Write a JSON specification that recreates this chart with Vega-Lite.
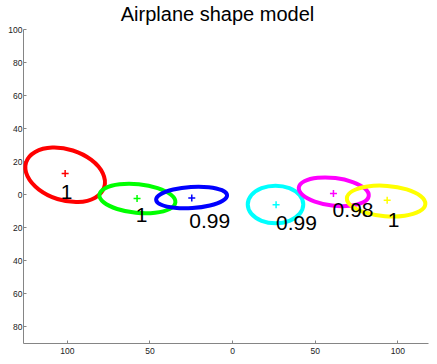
{
  "$schema": "https://vega.github.io/schema/vega-lite/v6.json",
  "width": 405,
  "height": 314,
  "autosize": {"type": "none"},
  "padding": {"left": 23, "top": 29, "right": 9, "bottom": 21},
  "background": "white",
  "title": {
    "text": "Airplane shape model",
    "font": "Liberation Sans",
    "fontSize": 20,
    "fontWeight": "normal",
    "color": "#000000",
    "anchor": "middle",
    "dx": -8,
    "offset": 0
  },
  "config": {
    "view": {"stroke": null},
    "axis": {
      "grid": false,
      "domainColor": "#858585",
      "domainWidth": 1,
      "tickColor": "#858585",
      "tickSize": -3,
      "labelFont": "Liberation Sans",
      "labelFontSize": 8.5,
      "labelColor": "#222222",
      "labelOverlap": false,
      "labelFlush": false,
      "labelBound": false,
      "title": null
    }
  },
  "datasets": {
    "ellipses": [
      {"g": "e1", "i": 0, "x": -77.36, "y": 4.30},
      {"g": "e1", "i": 1, "x": -78.20, "y": 12.65},
      {"g": "e1", "i": 2, "x": -85.15, "y": 20.76},
      {"g": "e1", "i": 3, "x": -96.34, "y": 26.48},
      {"g": "e1", "i": 4, "x": -108.79, "y": 28.26},
      {"g": "e1", "i": 5, "x": -119.14, "y": 25.64},
      {"g": "e1", "i": 6, "x": -124.64, "y": 19.30},
      {"g": "e1", "i": 7, "x": -123.80, "y": 10.96},
      {"g": "e1", "i": 8, "x": -116.85, "y": 2.84},
      {"g": "e1", "i": 9, "x": -105.66, "y": -2.88},
      {"g": "e1", "i": 10, "x": -93.21, "y": -4.66},
      {"g": "e1", "i": 11, "x": -82.86, "y": -2.04},
      {"g": "e2", "i": 0, "x": -34.31, "y": -4.89},
      {"g": "e2", "i": 1, "x": -36.96, "y": -0.28},
      {"g": "e2", "i": 2, "x": -45.06, "y": 3.71},
      {"g": "e2", "i": 3, "x": -56.44, "y": 6.01},
      {"g": "e2", "i": 4, "x": -68.05, "y": 6.00},
      {"g": "e2", "i": 5, "x": -76.78, "y": 3.69},
      {"g": "e2", "i": 6, "x": -80.29, "y": -0.31},
      {"g": "e2", "i": 7, "x": -77.64, "y": -4.92},
      {"g": "e2", "i": 8, "x": -69.54, "y": -8.91},
      {"g": "e2", "i": 9, "x": -58.16, "y": -11.21},
      {"g": "e2", "i": 10, "x": -46.55, "y": -11.20},
      {"g": "e2", "i": 11, "x": -37.82, "y": -8.89},
      {"g": "e3", "i": 0, "x": -3.05, "y": -0.55},
      {"g": "e3", "i": 1, "x": -6.13, "y": 2.46},
      {"g": "e3", "i": 2, "x": -14.13, "y": 4.29},
      {"g": "e3", "i": 3, "x": -24.91, "y": 4.45},
      {"g": "e3", "i": 4, "x": -35.59, "y": 2.90},
      {"g": "e3", "i": 5, "x": -43.29, "y": 0.05},
      {"g": "e3", "i": 6, "x": -45.96, "y": -3.33},
      {"g": "e3", "i": 7, "x": -42.87, "y": -6.34},
      {"g": "e3", "i": 8, "x": -34.87, "y": -8.17},
      {"g": "e3", "i": 9, "x": -24.09, "y": -8.33},
      {"g": "e3", "i": 10, "x": -13.41, "y": -6.78},
      {"g": "e3", "i": 11, "x": -5.71, "y": -3.93},
      {"g": "e4", "i": 0, "x": 43.05, "y": -6.18},
      {"g": "e4", "i": 1, "x": 40.80, "y": -0.48},
      {"g": "e4", "i": 2, "x": 34.65, "y": 3.69},
      {"g": "e4", "i": 3, "x": 26.25, "y": 5.22},
      {"g": "e4", "i": 4, "x": 17.85, "y": 3.69},
      {"g": "e4", "i": 5, "x": 11.70, "y": -0.48},
      {"g": "e4", "i": 6, "x": 9.45, "y": -6.18},
      {"g": "e4", "i": 7, "x": 11.70, "y": -11.88},
      {"g": "e4", "i": 8, "x": 17.85, "y": -16.05},
      {"g": "e4", "i": 9, "x": 26.25, "y": -17.58},
      {"g": "e4", "i": 10, "x": 34.65, "y": -16.05},
      {"g": "e4", "i": 11, "x": 40.80, "y": -11.88},
      {"g": "e5", "i": 0, "x": 82.65, "y": -1.06},
      {"g": "e5", "i": 1, "x": 80.32, "y": 3.43},
      {"g": "e5", "i": 2, "x": 72.94, "y": 7.40},
      {"g": "e5", "i": 3, "x": 62.50, "y": 9.79},
      {"g": "e5", "i": 4, "x": 51.79, "y": 9.96},
      {"g": "e5", "i": 5, "x": 43.68, "y": 7.86},
      {"g": "e5", "i": 6, "x": 40.35, "y": 4.06},
      {"g": "e5", "i": 7, "x": 42.68, "y": -0.43},
      {"g": "e5", "i": 8, "x": 50.06, "y": -4.40},
      {"g": "e5", "i": 9, "x": 60.50, "y": -6.79},
      {"g": "e5", "i": 10, "x": 71.21, "y": -6.96},
      {"g": "e5", "i": 11, "x": 79.32, "y": -4.86},
      {"g": "e6", "i": 0, "x": 116.89, "y": -5.95},
      {"g": "e6", "i": 1, "x": 114.06, "y": -1.12},
      {"g": "e6", "i": 2, "x": 105.64, "y": 2.91},
      {"g": "e6", "i": 3, "x": 93.87, "y": 5.05},
      {"g": "e6", "i": 4, "x": 81.91, "y": 4.74},
      {"g": "e6", "i": 5, "x": 72.96, "y": 2.05},
      {"g": "e6", "i": 6, "x": 69.43, "y": -2.29},
      {"g": "e6", "i": 7, "x": 72.26, "y": -7.13},
      {"g": "e6", "i": 8, "x": 80.68, "y": -11.15},
      {"g": "e6", "i": 9, "x": 92.45, "y": -13.29},
      {"g": "e6", "i": 10, "x": 104.41, "y": -12.98},
      {"g": "e6", "i": 11, "x": 113.36, "y": -10.29}
    ],
    "models": [
      {"g": "e1", "cx": -101.0, "cy": 12.5, "tx": -103.6, "ty": 0.8, "label": "1"},
      {"g": "e2", "cx": -57.5, "cy": -2.6, "tx": -58.3, "ty": -13.0, "label": "1"},
      {"g": "e3", "cx": -24.4, "cy": -2.2, "tx": -25.9, "ty": -17.0, "label": "0.99"},
      {"g": "e4", "cx": 26.6, "cy": -6.3, "tx": 26.6, "ty": -18.0, "label": "0.99"},
      {"g": "e5", "cx": 61.3, "cy": 0.4, "tx": 60.8, "ty": -10.4, "label": "0.98"},
      {"g": "e6", "cx": 93.8, "cy": -3.6, "tx": 94.2, "ty": -16.0, "label": "1"}
    ]
  },
  "layer": [
    {
      "data": {"name": "ellipses"},
      "mark": {"type": "line", "interpolate": "cardinal-closed", "strokeWidth": 4},
      "encoding": {
        "x": {
          "field": "x", "type": "quantitative",
          "scale": {"domain": [-126.5, 118.5], "nice": false, "zero": false},
          "axis": {"values": [-100, -50, 0, 50, 100], "tickCount": 20, "labelExpr": "'' + abs(datum.value)", "labelPadding": 6, "labelOverlap": false, "labelFlush": false}
        },
        "y": {
          "field": "y", "type": "quantitative",
          "scale": {"domain": [-90, 100], "nice": false, "zero": false},
          "axis": {"values": [-80, -60, -40, -20, 0, 20, 40, 60, 80, 100], "tickCount": 20, "labelExpr": "'' + abs(datum.value)", "labelPadding": 4, "labelOverlap": false, "labelFlush": false, "labelBound": false}
        },
        "color": {
          "field": "g", "type": "nominal", "legend": null,
          "scale": {"domain": ["e1", "e2", "e3", "e4", "e5", "e6"], "range": ["#ff0000", "#00ff00", "#0000ff", "#00ffff", "#ff00ff", "#ffff00"]}
        },
        "order": {"field": "i", "type": "quantitative"}
      }
    },
    {
      "data": {"name": "models"},
      "mark": {"type": "point", "shape": "M-1,0L1,0M0,-1L0,1", "size": 49, "strokeWidth": 1.5, "filled": false, "opacity": 1},
      "encoding": {
        "x": {"field": "cx", "type": "quantitative"},
        "y": {"field": "cy", "type": "quantitative"},
        "color": {"field": "g", "type": "nominal", "legend": null}
      }
    },
    {
      "data": {"name": "models"},
      "mark": {"type": "text", "align": "left", "baseline": "middle", "font": "Liberation Sans", "fontSize": 21, "color": "#000000"},
      "encoding": {
        "x": {"field": "tx", "type": "quantitative"},
        "y": {"field": "ty", "type": "quantitative"},
        "text": {"field": "label", "type": "nominal"}
      }
    }
  ]
}
